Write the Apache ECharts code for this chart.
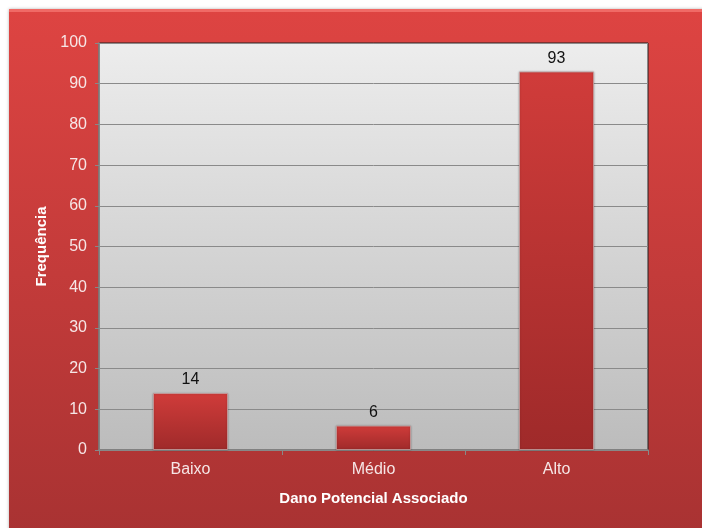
<!DOCTYPE html>
<html><head><meta charset="utf-8">
<script src="https://cdn.jsdelivr.net/npm/echarts@6/dist/echarts.min.js"></script>
<style>html,body{margin:0;padding:0;background:#fff}#c{width:702px;height:528px}</style>
</head><body><div id="c"></div>
<script>
var categories = ['Baixo', 'Médio', 'Alto'];
var values = [14, 6, 93];
var yTicks = {min: 0, max: 100, interval: 10};

var chart = echarts.init(document.getElementById('c'));
var txt = '#f6e6e6';
var ff = '"Liberation Sans", Arial, sans-serif';
chart.setOption({
  animation: false,
  textStyle: {fontFamily: ff},
  graphic: [{
    type: 'rect', z: -10, silent: true,
    shape: {x: 9, y: 9, width: 700, height: 530},
    style: {
      fill: new echarts.graphic.LinearGradient(0, 0, 0, 1, [
        {offset: 0, color: '#de4442'}, {offset: 1, color: '#a83232'}
      ]),
      shadowBlur: 3, shadowColor: 'rgba(0,0,0,0.3)'
    }
  }, {
    type: 'rect', z: -9, silent: true,
    shape: {x: 9, y: 9, width: 700, height: 3},
    style: {fill: '#f06a66'}
  }],
  grid: {
    left: 99, right: 54, top: 43, bottom: 78,
    show: true,
    backgroundColor: new echarts.graphic.LinearGradient(0, 0, 0, 1, [
      {offset: 0, color: '#ededed'}, {offset: 1, color: '#bcbcbc'}
    ]),
    borderColor: '#222', borderWidth: 1
  },
  xAxis: {
    type: 'category', data: categories,
    name: 'Dano Potencial Associado', nameLocation: 'middle', nameGap: 41,
    nameTextStyle: {color: '#fff', fontWeight: 'bold', fontSize: 15, fontFamily: ff},
    axisLine: {lineStyle: {color: '#888', width: 1.5}},
    axisTick: {show: true, length: 5, lineStyle: {color: '#888'}},
    axisLabel: {color: txt, fontSize: 16, margin: 12, fontFamily: ff}
  },
  yAxis: {
    type: 'value', min: yTicks.min, max: yTicks.max, interval: yTicks.interval,
    name: 'Frequência', nameLocation: 'middle', nameGap: 42,
    nameTextStyle: {color: '#fff', fontWeight: 'bold', fontSize: 15, fontFamily: ff},
    axisLine: {show: true, lineStyle: {color: '#888', width: 1.5}},
    axisTick: {show: true, length: 4, lineStyle: {color: '#888'}},
    axisLabel: {color: txt, fontSize: 16, margin: 12, fontFamily: ff},
    splitLine: {lineStyle: {color: '#8a8a8a', width: 1}}
  },
  series: [{
    type: 'bar', data: values, barWidth: '41%',
    itemStyle: {
      color: new echarts.graphic.LinearGradient(0, 0, 0, 1, [
        {offset: 0, color: '#d03c3a'}, {offset: 1, color: '#9f2a2a'}
      ]),
      borderColor: 'rgba(200,160,160,0.8)', borderWidth: 1,
      shadowBlur: 2, shadowColor: 'rgba(0,0,0,0.25)'
    },
    label: {show: true, position: 'top', color: '#111', fontSize: 16, distance: 5, fontFamily: ff}
  }]
});
</script></body></html>
